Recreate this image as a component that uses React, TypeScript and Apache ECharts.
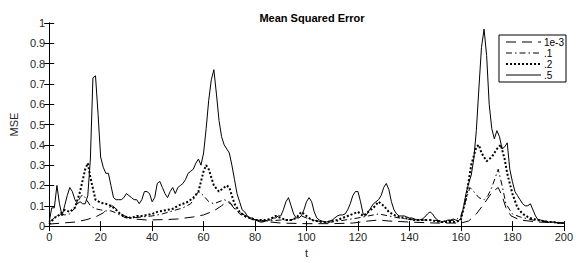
import React, { useEffect, useRef } from "react";
import * as echarts from "echarts";

// ---- data ----
const seriesNames = ["1e-3", ".1", ".2", ".5"];

// series ".5" (solid), one value per t = 0..200
const valSolid = [
  0.02, 0.09, 0.09, 0.2, 0.11, 0.05, 0.1, 0.15, 0.19, 0.17,
  0.13, 0.11, 0.12, 0.11, 0.11, 0.15, 0.33, 0.73, 0.74, 0.55,
  0.34, 0.29, 0.26, 0.26, 0.2, 0.14, 0.13, 0.13, 0.13, 0.14,
  0.16, 0.15, 0.14, 0.13, 0.13, 0.11, 0.13, 0.17, 0.17, 0.16,
  0.12, 0.14, 0.21, 0.22, 0.19, 0.16, 0.14, 0.17, 0.19, 0.16,
  0.19, 0.2, 0.21, 0.23, 0.26, 0.27, 0.28, 0.31, 0.33, 0.3,
  0.36, 0.48, 0.62, 0.72, 0.77, 0.65, 0.52, 0.44, 0.4, 0.38,
  0.36, 0.3, 0.23, 0.16, 0.12, 0.08, 0.07, 0.05, 0.04, 0.04,
  0.03, 0.025, 0.02, 0.02, 0.025, 0.03, 0.03, 0.04, 0.04, 0.05,
  0.05, 0.08, 0.12, 0.14, 0.1, 0.06, 0.04, 0.04, 0.05, 0.08,
  0.12, 0.14, 0.12, 0.07, 0.04, 0.03, 0.025, 0.02, 0.02, 0.025,
  0.03, 0.04, 0.05, 0.055, 0.055, 0.06, 0.08, 0.11, 0.15, 0.17,
  0.17, 0.12, 0.06, 0.05, 0.07, 0.09, 0.11, 0.12, 0.13, 0.15,
  0.19, 0.21, 0.18, 0.12, 0.08, 0.06, 0.05, 0.05, 0.05, 0.045,
  0.04, 0.04, 0.035, 0.03, 0.03, 0.035, 0.045, 0.06, 0.07, 0.06,
  0.04, 0.03, 0.02, 0.02, 0.025, 0.03, 0.03, 0.035, 0.03, 0.025,
  0.04, 0.09, 0.16, 0.21, 0.25, 0.33, 0.47, 0.68, 0.88, 0.97,
  0.84, 0.6, 0.48, 0.43, 0.47, 0.44, 0.38, 0.39, 0.41, 0.28,
  0.22, 0.17, 0.15, 0.13, 0.11, 0.1, 0.1, 0.11, 0.08, 0.05,
  0.03, 0.03, 0.025, 0.025, 0.02, 0.02, 0.02, 0.018, 0.016, 0.015,
  0.015,
];

// series ".2" (dotted)
const tDotted = [
  0, 2, 4, 6, 8, 10, 12, 14, 15, 16, 18, 20, 22, 24, 26, 28, 30, 32, 34, 36,
  38, 40, 42, 44, 46, 48, 50, 52, 54, 56, 58, 60, 61, 62, 64, 66, 68, 69, 70, 72,
  74, 76, 78, 80, 82, 84, 86, 88, 90, 92, 94, 96, 98, 100, 102, 104, 106, 108, 110, 112,
  114, 116, 118, 120, 122, 124, 126, 128, 130, 132, 134, 136, 138, 140, 142, 144, 146, 148, 150, 152,
  154, 156, 158, 160, 162, 164, 166, 167, 168, 170, 172, 174, 175.5, 177, 178, 180, 182, 184, 186, 188,
  190, 192, 194, 196, 198, 200,
];
const valDotted = [
  0.01, 0.04, 0.055, 0.08, 0.07, 0.09, 0.17, 0.28, 0.31, 0.24, 0.13, 0.115, 0.11, 0.1, 0.08, 0.055, 0.045, 0.04, 0.05, 0.05,
  0.055, 0.06, 0.07, 0.075, 0.08, 0.085, 0.1, 0.11, 0.12, 0.14, 0.17, 0.27, 0.3, 0.28, 0.2, 0.17, 0.19, 0.2, 0.19, 0.11,
  0.07, 0.05, 0.04, 0.03, 0.03, 0.03, 0.035, 0.05, 0.04, 0.03, 0.03, 0.04, 0.07, 0.05, 0.03, 0.025, 0.02, 0.02, 0.025, 0.03,
  0.04, 0.05, 0.06, 0.07, 0.05, 0.07, 0.09, 0.12, 0.1, 0.07, 0.055, 0.045, 0.04, 0.035, 0.03, 0.03, 0.03, 0.03, 0.025, 0.02,
  0.02, 0.02, 0.02, 0.03, 0.14, 0.3, 0.39, 0.4, 0.36, 0.32, 0.34, 0.38, 0.4, 0.33, 0.26, 0.16, 0.09, 0.06, 0.045, 0.035,
  0.03, 0.025, 0.02, 0.02, 0.015, 0.015,
];

// series ".1" (dash-dot)
const tDashDot = [
  0, 2, 4, 6, 8, 10, 12, 13, 14, 16, 18, 20, 22, 24, 26, 28, 30, 32, 36, 40,
  44, 48, 52, 55, 57, 58, 60, 62, 64, 66, 68, 70, 72, 74, 77, 80, 85, 90, 94, 98,
  100, 104, 110, 115, 120, 124, 128, 132, 136, 142, 148, 154, 158, 160, 162, 163.5, 165, 167, 169, 170.5,
  172, 174.5, 176, 177.5, 180, 183, 188, 194, 200,
];
const valDashDot = [
  0.02, 0.04, 0.06, 0.055, 0.06, 0.09, 0.14, 0.155, 0.14, 0.1, 0.085, 0.08, 0.075, 0.075, 0.065, 0.05, 0.04, 0.04, 0.045, 0.05,
  0.06, 0.075, 0.09, 0.11, 0.15, 0.17, 0.15, 0.12, 0.11, 0.12, 0.13, 0.12, 0.09, 0.06, 0.04, 0.03, 0.025, 0.03, 0.03, 0.05,
  0.04, 0.025, 0.02, 0.03, 0.04, 0.05, 0.06, 0.05, 0.04, 0.03, 0.03, 0.025, 0.03, 0.05, 0.13, 0.19, 0.17, 0.14, 0.13, 0.15,
  0.19, 0.28, 0.2, 0.11, 0.06, 0.045, 0.03, 0.02, 0.015,
];

// series "1e-3" (dashed)
const tDashed = [
  0, 5, 10, 14, 18, 21, 23, 24.5, 26, 28, 30, 33, 38, 45, 50, 56, 60, 64, 67, 69,
  70.5, 72, 75, 78, 82, 90, 100, 110, 118, 124, 128, 132, 140, 150, 160, 163, 166, 169, 172, 174.5,
  176, 177.5, 179.5, 183, 190, 200,
];
const valDashed = [
  0.01, 0.015, 0.02, 0.03, 0.045, 0.065, 0.09, 0.1, 0.085, 0.06, 0.045, 0.035, 0.03, 0.032, 0.035, 0.045, 0.055, 0.075, 0.1, 0.12,
  0.11, 0.085, 0.06, 0.04, 0.025, 0.015, 0.012, 0.012, 0.015, 0.025, 0.03, 0.025, 0.02, 0.015, 0.015, 0.025, 0.06, 0.11, 0.165, 0.19,
  0.15, 0.09, 0.05, 0.03, 0.02, 0.015,
];

const FONT = "'Liberation Sans', Arial, Helvetica, sans-serif";

function pairs(ts: number[], vs: number[]) {
  return ts.map((t, i) => [t, vs[i]]);
}

export default function App() {
  const ref = useRef<HTMLDivElement>(null);

  useEffect(() => {
    document.body.style.margin = "0";
    const chart = echarts.init(ref.current!, null, { renderer: "svg" });
    const axisLine = { show: true, lineStyle: { color: "#000", width: 1 } };
    const tick = { show: true, inside: true, length: 5, lineStyle: { color: "#000", width: 1 } };
    const label = { color: "#262626", fontSize: 11, fontFamily: FONT };
    const legendWidths = [1, 1, 2, 1];
    chart.setOption({
      animation: false,
      backgroundColor: "#fff",
      title: {
        text: "Mean Squared Error",
        left: 307,
        top: 7,
        textAlign: "center",
        textStyle: { fontSize: 11, fontWeight: "bold", color: "#000", fontFamily: FONT },
      },
      grid: { left: 47, right: 9, top: 23, bottom: 30, containLabel: false },
      legend: {
        orient: "vertical",
        right: 10,
        top: 35,
        data: seriesNames.map((name, i) => ({ name, lineStyle: { width: legendWidths[i] } })),
        itemWidth: 35,
        itemHeight: 8,
        itemGap: 1,
        padding: [2, 2, 2, 6],
        borderColor: "#000",
        borderWidth: 1,
        backgroundColor: "#fff",
        itemStyle: { opacity: 0 },
        textStyle: { fontSize: 10, lineHeight: 10, color: "#000", fontFamily: FONT, padding: [0, 0, 0, -2] },
      },
      xAxis: [
        {
          type: "value",
          min: 0,
          max: 200,
          interval: 20,
          name: "t",
          nameLocation: "middle",
          nameGap: 18,
          nameTextStyle: { fontSize: 11, color: "#262626", fontFamily: FONT },
          axisLine,
          axisTick: tick,
          axisLabel: { ...label, margin: 5 },
          splitLine: { show: false },
        },
        {
          type: "value",
          position: "top",
          min: 0,
          max: 200,
          interval: 20,
          axisLine,
          axisTick: tick,
          axisLabel: { show: false },
          splitLine: { show: false },
        },
      ],
      yAxis: [
        {
          type: "value",
          min: 0,
          max: 1,
          interval: 0.1,
          name: "MSE",
          nameLocation: "middle",
          nameGap: 27,
          nameTextStyle: { fontSize: 11, color: "#262626", fontFamily: FONT },
          axisLine,
          axisTick: tick,
          axisLabel: {
            ...label,
            margin: 4,
            formatter: (v: number) => String(Math.round(v * 10) / 10),
          },
          splitLine: { show: false },
        },
        {
          type: "value",
          position: "right",
          min: 0,
          max: 1,
          interval: 0.1,
          axisLine,
          axisTick: tick,
          axisLabel: { show: false },
          splitLine: { show: false },
        },
      ],
      series: [
        {
          name: seriesNames[0],
          type: "line",
          symbol: "none",
          data: pairs(tDashed, valDashed),
          lineStyle: { color: "#000", width: 1, type: [10, 6] },
          itemStyle: { color: "#000" },
          z: 2,
        },
        {
          name: seriesNames[1],
          type: "line",
          symbol: "none",
          data: pairs(tDashDot, valDashDot),
          lineStyle: { color: "#000", width: 1, type: [6, 3, 1.5, 3] },
          itemStyle: { color: "#000" },
          z: 3,
        },
        {
          name: seriesNames[2],
          type: "line",
          symbol: "none",
          data: pairs(tDotted, valDotted),
          lineStyle: { color: "#000", width: 2, type: [2, 2] },
          itemStyle: { color: "#000" },
          z: 4,
        },
        {
          name: seriesNames[3],
          type: "line",
          symbol: "none",
          data: valSolid.map((v, i) => [i, v]),
          lineStyle: { color: "#000", width: 1, type: "solid" },
          itemStyle: { color: "#000" },
          z: 5,
        },
      ],
    });
    return () => chart.dispose();
  }, []);

  return (
    <div
      ref={ref}
      style={{ position: "absolute", left: 0, top: 0, width: 576, height: 263 }}
    />
  );
}
